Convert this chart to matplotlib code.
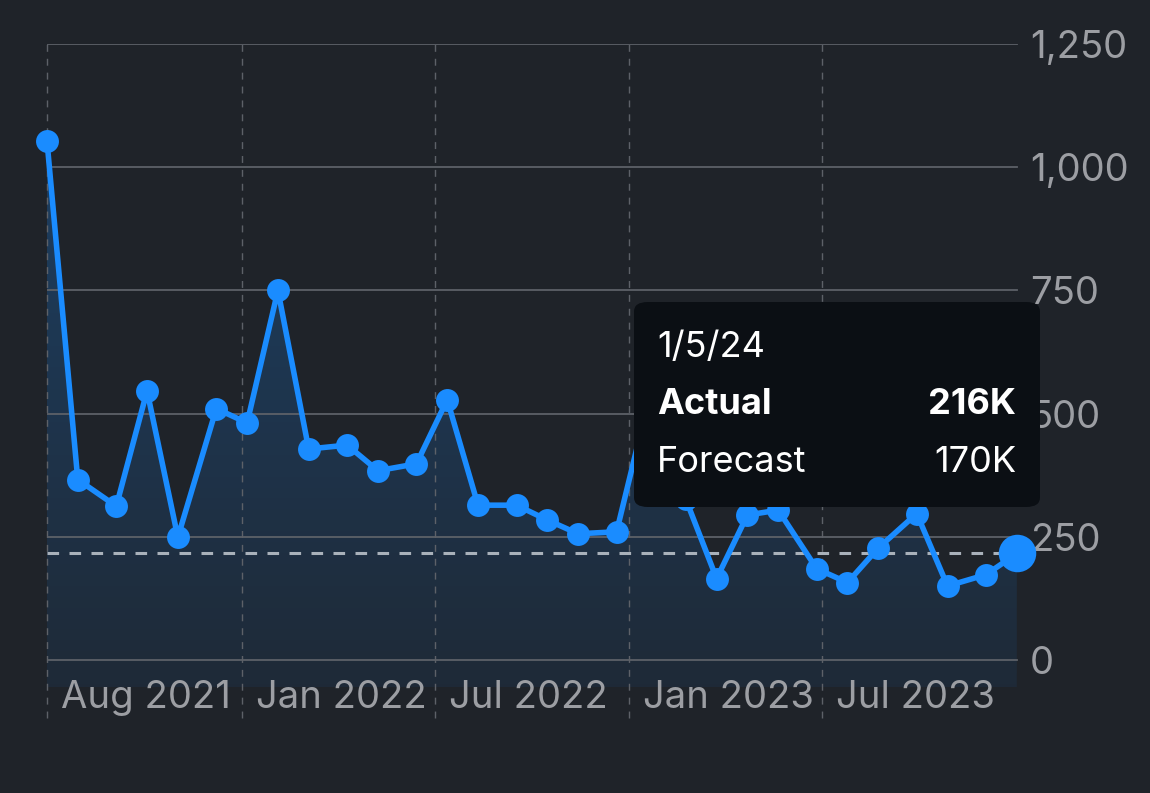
import numpy as np
import matplotlib.pyplot as plt
import matplotlib.dates as mdates
from matplotlib.patches import FancyBboxPatch

# release dates (first friday) and actual values, thousands
release_dates = np.array([
    '2021-08-06', '2021-09-03', '2021-10-08', '2021-11-05', '2021-12-03',
    '2022-01-07', '2022-02-04', '2022-03-04', '2022-04-01', '2022-05-06',
    '2022-06-03', '2022-07-08', '2022-08-05', '2022-09-02', '2022-10-07',
    '2022-11-04', '2022-12-02', '2023-01-06', '2023-02-03', '2023-03-10',
    '2023-04-07', '2023-05-05', '2023-06-02', '2023-07-07', '2023-08-04',
    '2023-09-01', '2023-10-06', '2023-11-03', '2023-12-08', '2024-01-05',
], dtype='datetime64[D]')
actual = [1053, 366, 312, 546, 249, 510, 481, 750, 428, 436,
          384, 398, 528, 314, 314, 284, 256, 260, 517, 326,
          165, 294, 304, 185, 157, 227, 297, 150, 173, 216]

tick_dates = np.array(['2021-08-06', '2022-01-30', '2022-07-25',
                       '2023-01-17', '2023-07-12'], dtype='datetime64[D]')
tick_labels = ['Aug 2021', 'Jan 2022', 'Jul 2022', 'Jan 2023', 'Jul 2023']
y_ticks = [0, 250, 500, 750, 1000, 1250]

tip_date = '1/5/24'
tip_actual = '216K'
tip_forecast = '170K'

bg = '#1f2329'
blue = '#1a8cff'
txt_gray = '#9c9ea3'

plt.rcParams['font.family'] = ['Inter', 'DejaVu Sans']

fig = plt.figure(figsize=(11.5, 7.93), dpi=100, facecolor=bg)
ax = fig.add_axes([47 / 1150, 1 - 687 / 793, (1019 - 47) / 1150, (687 - 44) / 793])
ax.set_facecolor(bg)

x = mdates.date2num(release_dates.astype('datetime64[s]').astype(object))
y = np.array(actual, dtype=float)
xt = mdates.date2num(tick_dates.astype('datetime64[s]').astype(object))

ymin, ymax = -55, 1250
x0 = x[0]
x1 = x[-1] + 2
ax.set_xlim(x0, x1)
ax.set_ylim(ymin, ymax)

# gradient area under the line
poly = ax.fill_between(x, y, ymin, color='none', lw=0)
alpha = np.linspace(0.30, 0.07, 256)[:, None]
rgba = np.zeros((256, 1, 4))
rgba[..., 0] = 0.10
rgba[..., 1] = 0.55
rgba[..., 2] = 1.0
rgba[..., 3] = alpha
img = ax.imshow(rgba, extent=[x0, x1, ymin, ymax], aspect='auto', zorder=1,
                origin='upper', interpolation='bilinear')
img.set_clip_path(poly.get_paths()[0], transform=ax.transData)

# horizontal grid
for v in y_ticks:
    ax.plot([x[0], x[-1]], [v, v], color='#5d6168', lw=1.3, zorder=2)

# vertical dashed grid
for d in xt:
    ax.plot([d, d], [-118, ymax], color='#5d6168', lw=1.0, ls=(0, (5, 5)),
            zorder=2, clip_on=False)

# reference line at hovered value
ax.plot([x[0], x[-1]], [y[-1], y[-1]], color='#a9b1ba', lw=2.2,
        ls=(0, (3.8, 3.4)), zorder=3)

ax.plot(x, y, color=blue, lw=4.0, marker='o', ms=16.5, mec='none',
        zorder=4, clip_on=False, solid_joinstyle='round')
ax.plot(x[-1], y[-1], marker='o', ms=27, color=blue, mec='none',
        zorder=5, clip_on=False)

for s in ax.spines.values():
    s.set_visible(False)
ax.set_xticks([])
ax.yaxis.tick_right()
ax.set_yticks(y_ticks)
ax.set_yticklabels([f'{v:,}' for v in y_ticks])
ax.tick_params(axis='y', length=0, pad=8, labelsize=27.5, labelcolor=txt_gray)

for d, lab in zip(xt, tick_labels):
    ax.annotate(lab, xy=(d, 0), xycoords=('data', 'axes fraction'),
                xytext=(10, -8), textcoords='offset points',
                ha='left', va='center', fontsize=27.5, color=txt_gray)

# tooltip
W, H = 1150, 793
box = FancyBboxPatch((634 / W, 1 - 507 / H), (1040 - 634) / W, (507 - 302) / H,
                     boxstyle='round,pad=0,rounding_size=0.012',
                     transform=fig.transFigure, facecolor='#0b0f14',
                     edgecolor='none', zorder=10)
fig.patches.append(box)
fs = 26
fig.text(657 / W, 1 - 348 / H, tip_date, fontsize=fs, color='white',
         va='center', ha='left', zorder=11)
fig.text(657 / W, 1 - 405 / H, 'Actual', fontsize=fs, color='white',
         fontweight='bold', va='center', ha='left', zorder=11)
fig.text(1016 / W, 1 - 405 / H, tip_actual, fontsize=fs, color='white',
         fontweight='bold', va='center', ha='right', zorder=11)
fig.text(657 / W, 1 - 463 / H, 'Forecast', fontsize=fs, color='white',
         va='center', ha='left', zorder=11)
fig.text(1016 / W, 1 - 463 / H, tip_forecast, fontsize=fs, color='white',
         va='center', ha='right', zorder=11)

fig.savefig('out.png', dpi=100, facecolor=bg)
